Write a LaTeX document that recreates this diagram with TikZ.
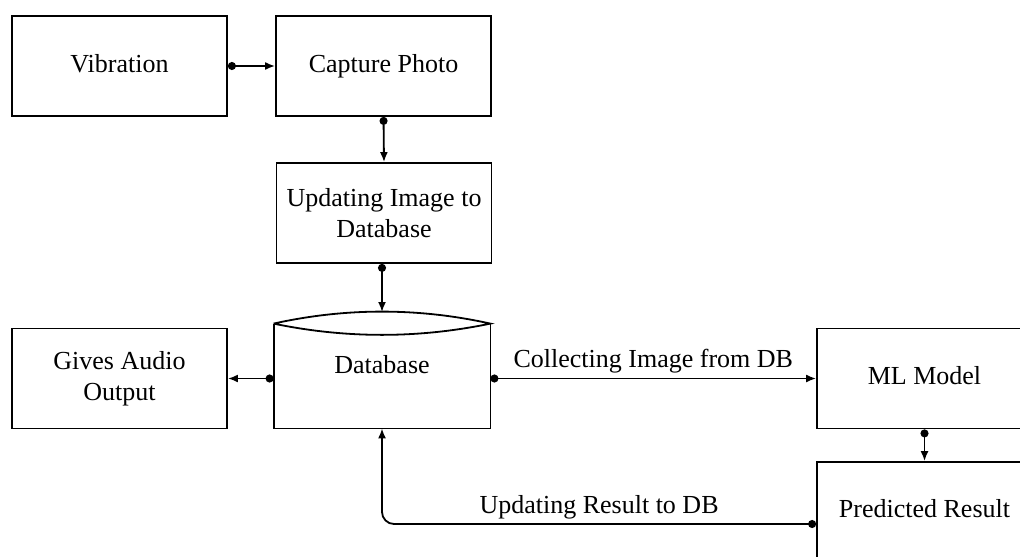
\documentclass[tikz,border=0pt]{standalone}
\usepackage{fontspec}
\setmainfont{Liberation Serif}
\usetikzlibrary{arrows.meta,calc}

\begin{document}
\begin{tikzpicture}[x=0.5pt,y=-0.5pt,
  every node/.style={font=\fontsize{13}{15.5}\selectfont},
  box/.style={draw, line width=0.9pt, minimum width=107.5pt, minimum height=50pt,
              inner sep=0pt, align=center},
  conn/.style={line width=0.9pt, {Circle[length=4pt]}-{Latex[length=5pt,width=4pt]}},
  lbl/.style={midway, above, inner sep=2pt}]

\useasboundingbox (0,0) rectangle (1020,556);
\clip (0,0) rectangle (1020,556);

% process boxes
\node[box] (vib)   at (119.5,66)   {Vibration\vphantom{p}};
\node[box] (cap)   at (383.5,66)   {Capture Photo};
\node[box] (upd)   at (384,213)    {Updating Image to\\Database};
\node[box] (audio) at (119.5,378.5){Gives Audio\\Output};
\node[box] (ml)    at (924.5,378.5){ML Model\vphantom{p}};
\node[box] (pred)  at (924.5,512)  {};
\node at (924.5,509) {Predicted Result};

% database: open-topped box with a lens-shaped lid
\node[minimum width=108pt, minimum height=52pt, inner sep=0pt] (db) at (382,376) {};
\draw[line width=0.9pt] (db.north west) -- (db.south west) -- (db.south east) -- (db.north east);
\draw[line width=0.9pt] (db.north west) .. controls +(72,-16) and +(-72,-16) .. (db.north east)
                                        .. controls +(-72,15) and +(72,15) .. (db.north west);
\node at (382,365) {Database};
\coordinate (dbtop) at (382,312);

% connectors
\draw[conn] (vib.east) -- (cap.west);
\draw[conn] (cap.south) -- (upd.north);
\draw[conn] (upd.south -| dbtop) -- (dbtop);
\draw[conn] (audio.east -| db.west) -- (audio.east);
\draw[conn] (db.east |- ml.west) -- (ml.west) node[lbl] {Collecting Image from DB};
\draw[conn] (ml.south) -- (pred.north);
\coordinate (ret) at ($(pred.west)+(0,12)$);
\draw[conn, rounded corners=6pt] (ret) -- (ret -| db.south) node[lbl] {Updating Result to DB} -- (db.south);

\end{tikzpicture}
\end{document}
